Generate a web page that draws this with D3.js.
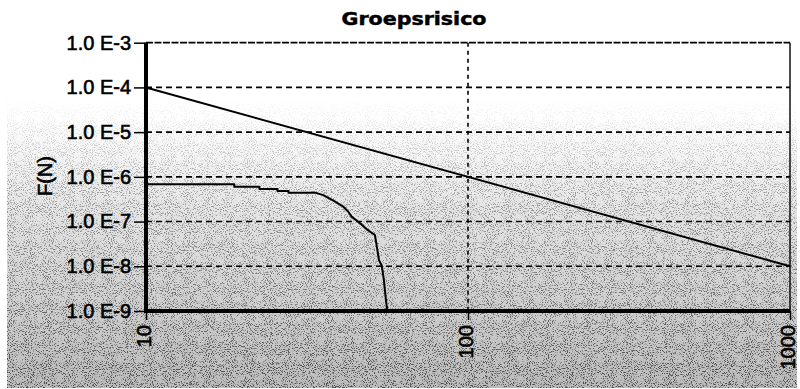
<!DOCTYPE html>
<html>
<head>
<meta charset="utf-8">
<script src="https://cdn.jsdelivr.net/npm/d3@7"></script>
<style>
  html, body { margin: 0; padding: 0; background: #fff; }
  svg { display: block; }
</style>
</head>
<body>
<svg id="chart" width="800" height="389"></svg>
<script>
// Group risk (FN) chart: frequency F(N) against number of victims N, log-log.
const chartTitle = "Groepsrisico";
const yAxisTitle = "F(N)";

const yTickValues = [1e-3, 1e-4, 1e-5, 1e-6, 1e-7, 1e-8, 1e-9];
const yTickLabels = ["1.0 E-3", "1.0 E-4", "1.0 E-5", "1.0 E-6", "1.0 E-7", "1.0 E-8", "1.0 E-9"];
const xTickValues = [10, 100, 1000];
const xTickLabels = ["10", "100", "1000"];

// Orientation value (norm line)
const normN = [10, 1000];
const normF = [1e-4, 1e-8];

// Computed FN curve
const fnN = [10, 18.8, 18.8, 22.5, 22.5, 25.6, 25.6, 27.7, 27.7, 33.5, 35.5, 38.2, 41.0, 42.5, 43.5,
             46.2, 48.5, 51.4, 52.1, 52.9, 54.0, 54.8, 55.6, 56.2];
const fnF = [6.82e-7, 6.82e-7, 6.03e-7, 6.03e-7, 5.35e-7, 5.35e-7, 4.83e-7, 4.83e-7, 4.43e-7, 4.43e-7,
             3.9e-7, 2.93e-7, 2.15e-7, 1.66e-7, 1.29e-7, 9.2e-8, 6.7e-8, 5.0e-8, 2.74e-8, 1.38e-8,
             1.02e-8, 4.9e-9, 1.76e-9, 1e-9];

const W = 800, H = 389;
const plot = { left: 146, right: 790, top: 42.7, bottom: 311 };

const svg = d3.select("#chart");
const defs = svg.append("defs");

// Background: white fading into a grainy grey toward the bottom
const bg = defs.append("linearGradient").attr("id", "bgGrad")
  .attr("x1", 0).attr("y1", 0).attr("x2", 0).attr("y2", 1);
bg.append("stop").attr("offset", 0).attr("stop-color", "#ffffff");
bg.append("stop").attr("offset", 0.3).attr("stop-color", "#ffffff");
bg.append("stop").attr("offset", 0.55).attr("stop-color", "#e4e4e4");
bg.append("stop").attr("offset", 1).attr("stop-color", "#bcbcbc");

const mg = defs.append("linearGradient").attr("id", "maskGrad")
  .attr("x1", 0).attr("y1", 0).attr("x2", 0).attr("y2", 1);
mg.append("stop").attr("offset", 0).attr("stop-color", "#000");
mg.append("stop").attr("offset", 0.25).attr("stop-color", "#000");
mg.append("stop").attr("offset", 0.5).attr("stop-color", "#888");
mg.append("stop").attr("offset", 1).attr("stop-color", "#fff");
defs.append("mask").attr("id", "grainMask")
  .append("rect").attr("width", W).attr("height", H).attr("fill", "url(#maskGrad)");

const grain = defs.append("filter").attr("id", "grain")
  .attr("x", 0).attr("y", 0).attr("width", "100%").attr("height", "100%");
grain.append("feTurbulence").attr("type", "fractalNoise").attr("baseFrequency", 0.95)
  .attr("numOctaves", 2).attr("seed", 7).attr("result", "n");
grain.append("feColorMatrix").attr("in", "n").attr("type", "matrix")
  .attr("values", "0 0 0 0 0  0 0 0 0 0  0 0 0 0 0  -7 0 0 0 3.3");

svg.append("rect").attr("x", 7).attr("y", 0).attr("width", 790).attr("height", 388)
  .attr("fill", "url(#bgGrad)");
svg.append("rect").attr("x", 7).attr("y", 0).attr("width", 790).attr("height", 388)
  .attr("filter", "url(#grain)").attr("mask", "url(#grainMask)").attr("opacity", 0.6);

const x = d3.scaleLog().domain([10, 1000]).range([plot.left, plot.right]);
const y = d3.scaleLog().domain([1e-9, 1e-3]).range([plot.bottom, plot.top]);

const font = "'Liberation Sans', Arial, sans-serif";

// Horizontal grid lines
svg.append("g").selectAll("line")
  .data(yTickValues.filter(v => v !== 1e-3 && v !== 1e-9))
  .join("line")
  .attr("x1", plot.left).attr("x2", plot.right)
  .attr("y1", d => y(d)).attr("y2", d => y(d))
  .attr("stroke", "#000").attr("stroke-width", 1.6)
  .attr("stroke-dasharray", "6,4");

// Vertical grid line
svg.append("g").selectAll("line")
  .data(xTickValues.filter(v => v === 100))
  .join("line")
  .attr("x1", d => x(d)).attr("x2", d => x(d))
  .attr("y1", plot.top).attr("y2", plot.bottom)
  .attr("stroke", "#000").attr("stroke-width", 1.6)
  .attr("stroke-dasharray", "4,4");

// Frame: top and right edges
svg.append("line").attr("x1", plot.left).attr("x2", plot.right)
  .attr("y1", y(1e-3)).attr("y2", y(1e-3))
  .attr("stroke", "#000").attr("stroke-width", 1.8).attr("stroke-dasharray", "7,1.5");
svg.append("line").attr("x1", x(1000)).attr("x2", x(1000))
  .attr("y1", plot.top).attr("y2", plot.bottom)
  .attr("stroke", "#000").attr("stroke-width", 1.4);

// Data lines
const line = d3.line().x(d => x(d[0])).y(d => y(d[1]));
svg.append("path")
  .datum(normN.map((n, i) => [n, normF[i]]))
  .attr("d", line).attr("fill", "none")
  .attr("stroke", "#000").attr("stroke-width", 2);
svg.append("path")
  .datum(fnN.map((n, i) => [n, fnF[i]]))
  .attr("d", line).attr("fill", "none")
  .attr("stroke", "#000").attr("stroke-width", 2)
  .attr("stroke-linejoin", "round");

// Y axis
const yAxis = svg.append("g")
  .attr("transform", `translate(${plot.left},0)`)
  .call(d3.axisLeft(y).tickValues(yTickValues)
    .tickFormat((d, i) => yTickLabels[i]).tickSize(12).tickPadding(3));
yAxis.select(".domain").attr("stroke", "#000").attr("stroke-width", 4)
  .attr("d", `M0,${plot.top}V${plot.bottom + 2}`);
yAxis.selectAll(".tick line").attr("stroke", "#000").attr("stroke-width", 1.5);
yAxis.selectAll(".tick text")
  .attr("font-family", font).attr("font-size", 20).attr("fill", "#000")
  .attr("stroke", "#000").attr("stroke-width", 0.6);

// X axis with vertical labels
const xAxis = svg.append("g")
  .attr("transform", `translate(0,${plot.bottom})`)
  .call(d3.axisBottom(x).tickValues(xTickValues)
    .tickFormat((d, i) => xTickLabels[i]).tickSize(9));
xAxis.select(".domain").attr("stroke", "#000").attr("stroke-width", 4)
  .attr("d", `M${plot.left - 2},0H${plot.right}`);
xAxis.selectAll(".tick line").attr("stroke", "#000").attr("stroke-width", 1.5);
xAxis.selectAll(".tick text")
  .attr("font-family", font).attr("font-size", 20).attr("fill", "#000")
  .attr("stroke", "#000").attr("stroke-width", 0.6)
  .attr("text-anchor", "end")
  .attr("transform", "rotate(-90)")
  .attr("x", -14).attr("y", 0).attr("dy", "0.22em");

// Titles
svg.append("text")
  .attr("x", 414).attr("y", 25)
  .attr("text-anchor", "middle")
  .attr("font-family", "'DejaVu Sans', sans-serif").attr("font-weight", "bold")
  .attr("font-size", 18).attr("textLength", 145).attr("lengthAdjust", "spacingAndGlyphs")
  .attr("stroke", "#000").attr("stroke-width", 0.5)
  .text(chartTitle);

svg.append("text")
  .attr("transform", "translate(45,176) rotate(-90)")
  .attr("text-anchor", "middle").attr("dy", "0.35em")
  .attr("font-family", font).attr("font-size", 20)
  .attr("stroke", "#000").attr("stroke-width", 0.6)
  .text(yAxisTitle);
</script>
</body>
</html>
